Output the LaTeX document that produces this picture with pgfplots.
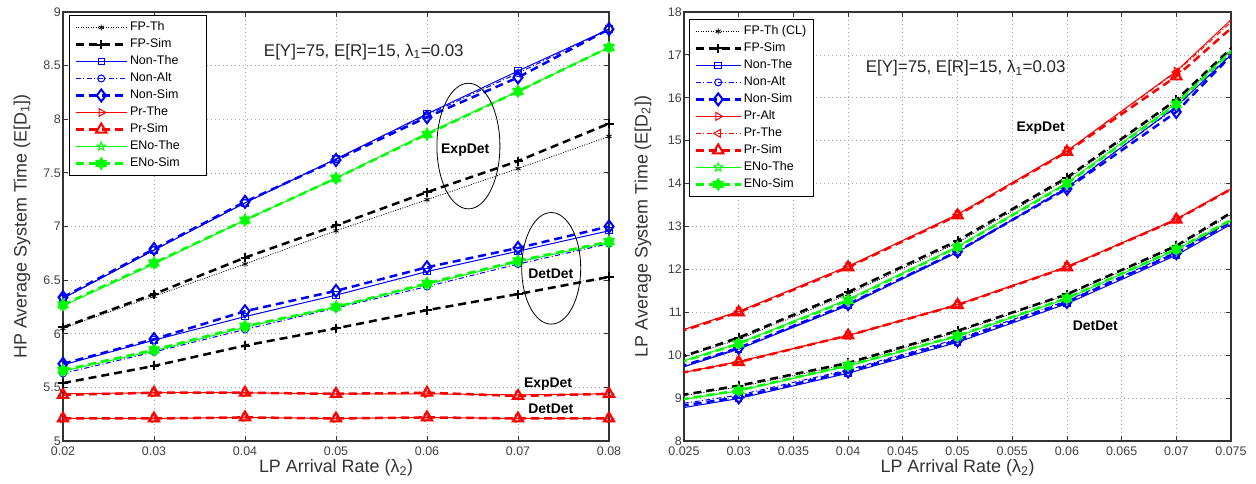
\documentclass[border=0pt]{standalone}
\usepackage{fontspec}
\setmainfont{Liberation Sans}
\usepackage{pgfplots}
\pgfplotsset{compat=1.18}
\usepackage{pgfplotstable}

\pgfdeclareplotmark{pstar}{%
  \pgfpathmoveto{\pgfpointpolar{90}{\pgfplotmarksize}}%
  \pgfpathlineto{\pgfpointpolar{126}{0.42\pgfplotmarksize}}%
  \pgfpathlineto{\pgfpointpolar{162}{\pgfplotmarksize}}%
  \pgfpathlineto{\pgfpointpolar{198}{0.42\pgfplotmarksize}}%
  \pgfpathlineto{\pgfpointpolar{234}{\pgfplotmarksize}}%
  \pgfpathlineto{\pgfpointpolar{270}{0.42\pgfplotmarksize}}%
  \pgfpathlineto{\pgfpointpolar{306}{\pgfplotmarksize}}%
  \pgfpathlineto{\pgfpointpolar{342}{0.42\pgfplotmarksize}}%
  \pgfpathlineto{\pgfpointpolar{18}{\pgfplotmarksize}}%
  \pgfpathlineto{\pgfpointpolar{54}{0.42\pgfplotmarksize}}%
  \pgfpathclose\pgfusepathqstroke}
\pgfdeclareplotmark{hexstar}{%
  \pgfpathmoveto{\pgfpointpolar{90}{\pgfplotmarksize}}%
  \pgfpathlineto{\pgfpointpolar{210}{\pgfplotmarksize}}%
  \pgfpathlineto{\pgfpointpolar{330}{\pgfplotmarksize}}%
  \pgfpathclose
  \pgfpathmoveto{\pgfpointpolar{270}{\pgfplotmarksize}}%
  \pgfpathlineto{\pgfpointpolar{30}{\pgfplotmarksize}}%
  \pgfpathlineto{\pgfpointpolar{150}{\pgfplotmarksize}}%
  \pgfpathclose\pgfusepathqfillstroke}

\pgfplotsset{
  fpth/.style={black, line width=0.8bp, dash pattern=on 1bp off 1.5bp, mark=asterisk, mark size=3bp, mark options={solid, line width=0.8bp}},
  fpsim/.style={black, line width=2.5bp, dash pattern=on 8bp off 5bp, mark=+, mark size=4.5bp, mark options={solid, line width=2bp}},
  nonthe/.style={blue, line width=1bp, mark=square, mark size=3.2bp, mark options={solid, line width=1bp}},
  nonalt/.style={blue, line width=1bp, dash pattern=on 5bp off 2.5bp on 1bp off 2.5bp, mark=o, mark size=3.5bp, mark options={solid, line width=1bp}},
  nonsim/.style={blue, line width=2.5bp, dash pattern=on 8bp off 5bp, mark=diamond, mark size=6bp, mark options={solid, line width=2bp}},
  prr/.style={red, line width=1bp, mark=triangle, mark size=4.5bp, mark options={solid, rotate=-90, line width=1bp}},
  prl/.style={red, line width=1bp, dash pattern=on 5bp off 2.5bp on 1bp off 2.5bp, mark=triangle, mark size=4.5bp, mark options={solid, rotate=90, line width=1bp}},
  prsim/.style={red, line width=2.5bp, dash pattern=on 8bp off 5bp, mark=triangle, mark size=6bp, mark options={solid, line width=2bp}},
  enothe/.style={green, line width=1bp, mark=pstar, mark size=4.5bp, mark options={solid, line width=1bp}},
  enosim/.style={green, line width=2.5bp, dash pattern=on 8bp off 5bp, mark=hexstar, mark size=6bp, mark options={solid, fill=green, line width=1bp}},
  base/.style={
    scale only axis, anchor=south west,
    axis line style={line width=1.2bp, black!80},
    grid=major,
    major grid style={line width=0.7bp, gray!70, dash pattern=on 1bp off 3bp},
    tick style={line width=0.8bp, black!80},
    major tick length=5bp,
    tick align=inside,
    ticklabel style={font=\fontsize{12.5}{15}\selectfont, text=black!75},
    xticklabel style={yshift=-2bp},
    yticklabel style={inner xsep=2bp},
    /pgf/number format/assume math mode=true,
    scaled ticks=false,
    every axis x label/.style={at={(axis description cs:0.5,-0.063)}, anchor=center, font=\fontsize{18}{21}\selectfont, text=black!80},
    every axis y label/.style={at={(axis description cs:-0.075,0.5)}, rotate=90, anchor=center, font=\fontsize{18}{21}\selectfont, text=black!80},
    legend cell align=left,
    legend style={anchor=north west, draw=black, line width=1bp, font=\fontsize{12.5}{14}\selectfont, fill=white, inner xsep=5bp, inner ysep=3.5bp, row sep=0bp, nodes={inner ysep=2.5bp, text height=9bp, text depth=3bp}},
  },
}

\pgfplotstableread{
x fpth fpsim nonthe nonalt nonsim prthe prsim enothe enosim
0.02 6.05 6.06 6.33 6.33 6.34 5.44 5.43 6.26 6.27
0.03 6.35 6.37 6.78 6.78 6.79 5.45 5.45 6.65 6.66
0.04 6.65 6.71 7.22 7.22 7.23 5.45 5.45 7.06 7.06
0.05 6.96 7.01 7.63 7.63 7.62 5.44 5.44 7.45 7.45
0.06 7.25 7.32 8.05 8.04 8.02 5.44 5.45 7.87 7.86
0.07 7.54 7.61 8.45 8.43 8.39 5.43 5.42 8.26 8.26
0.08 7.84 7.96 8.84 8.84 8.84 5.44 5.44 8.67 8.67
}\LE
\pgfplotstableread{
x fpsim nonthe nonalt nonsim prthe prsim enothe enosim
0.02 5.54 5.71 5.63 5.72 5.21 5.21 5.65 5.66
0.03 5.70 5.94 5.83 5.95 5.21 5.21 5.84 5.85
0.04 5.89 6.16 6.04 6.21 5.22 5.22 6.06 6.07
0.05 6.05 6.36 6.24 6.40 5.21 5.21 6.25 6.25
0.06 6.22 6.58 6.44 6.62 5.22 5.22 6.46 6.47
0.07 6.37 6.77 6.65 6.80 5.21 5.21 6.67 6.68
0.08 6.53 6.96 6.84 7.00 5.21 5.21 6.85 6.86
}\LD
\pgfplotstableread{
x fpth fpsim nonthe nonalt nonsim pralt prthe prsim enothe enosim
0.02 9.55 9.55 9.32 9.34 9.35 10.18 10.18 10.16 9.46 9.45
0.03 10.37 10.41 10.14 10.16 10.17 11.02 11.02 11.00 10.28 10.27
0.04 11.42 11.47 11.16 11.18 11.19 12.07 12.07 12.05 11.30 11.28
0.05 12.62 12.67 12.40 12.42 12.42 13.28 13.28 13.26 12.53 12.52
0.06 14.10 14.14 13.90 13.92 13.88 14.76 14.76 14.74 14.02 14.00
0.07 15.92 15.95 15.80 15.78 15.67 16.62 16.60 16.50 15.87 15.85
0.08 18.32 18.35 18.20 18.26 18.29 19.02 18.92 18.74 18.33 18.31
}\RE
\pgfplotstableread{
x fpth fpsim nonthe nonalt nonsim pralt prthe prsim enothe enosim
0.02 8.86 8.87 8.57 8.69 8.64 9.35 9.35 9.36 8.77 8.78
0.03 9.26 9.29 8.99 9.07 9.02 9.85 9.85 9.84 9.17 9.18
0.04 9.79 9.82 9.58 9.66 9.62 10.46 10.46 10.46 9.75 9.76
0.05 10.54 10.57 10.30 10.38 10.34 11.18 11.18 11.17 10.44 10.45
0.06 11.40 11.42 11.20 11.27 11.24 12.06 12.06 12.05 11.32 11.33
0.07 12.52 12.55 12.33 12.41 12.38 13.17 13.17 13.16 12.46 12.47
0.08 14.04 14.09 13.77 13.83 13.82 14.59 14.59 14.58 13.82 13.83
}\RD

\begin{document}
\begin{tikzpicture}
\useasboundingbox (0,0) rectangle (1256bp,484bp);
% ---------------- left ----------------
\begin{axis}[base, at={(63bp,43bp)}, width=546bp, height=429bp,
  xmin=0.02, xmax=0.08, ymin=5, ymax=9,
  xtick={0.02,0.03,0.04,0.05,0.06,0.07,0.08},
  xticklabels={0.02,0.03,0.04,0.05,0.06,0.07,0.08},
  ytick={5,5.5,6,6.5,7,7.5,8,8.5,9},
  yticklabels={5,5.5,6,6.5,7,7.5,8,8.5,9},
  clip mode=individual,
  xlabel={LP Arrival Rate (λ\textsubscript{2})},
  ylabel={HP Average System Time (E[D\textsubscript{1}])},
  legend image code/.code={\draw[mark repeat=2,mark phase=2,#1] plot coordinates {(0bp,0bp) (25.5bp,0bp) (51bp,0bp)};},
  legend style={at={(axis description cs:0.011,0.993)}},
]
\addplot[fpth] table[x=x,y=fpth]{\LE};
\addplot[fpsim] table[x=x,y=fpsim]{\LE};
\addplot[nonthe] table[x=x,y=nonthe]{\LE};
\addplot[nonalt] table[x=x,y=nonalt]{\LE};
\addplot[nonsim] table[x=x,y=nonsim]{\LE};
\addplot[prr] table[x=x,y=prthe]{\LE};
\addplot[prsim] table[x=x,y=prsim]{\LE};
\addplot[enothe] table[x=x,y=enothe]{\LE};
\addplot[enosim] table[x=x,y=enosim]{\LE};
\addplot[fpsim, forget plot] table[x=x,y=fpsim]{\LD};
\addplot[nonthe, forget plot] table[x=x,y=nonthe]{\LD};
\addplot[nonalt, forget plot] table[x=x,y=nonalt]{\LD};
\addplot[nonsim, forget plot] table[x=x,y=nonsim]{\LD};
\addplot[prr, forget plot] table[x=x,y=prthe]{\LD};
\addplot[prsim, forget plot] table[x=x,y=prsim]{\LD};
\addplot[enothe, forget plot] table[x=x,y=enothe]{\LD};
\addplot[enosim, forget plot] table[x=x,y=enosim]{\LD};
\legend{FP-Th, FP-Sim, Non-The, Non-Alt, Non-Sim, Pr-The, Pr-Sim, ENo-The, ENo-Sim\hspace*{20bp}}
\node[anchor=west, font=\fontsize{17}{20}\selectfont, text=black!85] at (axis cs:0.0417,8.63) {E[Y]=75, E[R]=15, λ\textsubscript{1}=0.03};
\draw[line width=0.8bp] (axis cs:0.06455,7.75) ellipse [x radius=31.5bp, y radius=62.8bp];
\draw[line width=0.8bp] (axis cs:0.07365,6.61) ellipse [x radius=29.5bp, y radius=55.8bp];
\node[font=\bfseries\fontsize{14}{16}\selectfont] at (axis cs:0.0642,7.71) {ExpDet};
\node[font=\bfseries\fontsize{14}{16}\selectfont] at (axis cs:0.0736,6.56) {DetDet};
\node[font=\bfseries\fontsize{14}{16}\selectfont] at (axis cs:0.0733,5.53) {ExpDet};
\node[font=\bfseries\fontsize{14}{16}\selectfont] at (axis cs:0.0736,5.30) {DetDet};
\end{axis}
% ---------------- right ----------------
\begin{axis}[base, at={(684bp,43bp)}, width=547bp, height=429bp,
  xmin=0.025, xmax=0.075, ymin=8, ymax=18,
  xtick={0.025,0.03,0.035,0.04,0.045,0.05,0.055,0.06,0.065,0.07,0.075},
  xticklabels={0.025,0.03,0.035,0.04,0.045,0.05,0.055,0.06,0.065,0.07,0.075},
  ytick={8,9,10,11,12,13,14,15,16,17,18},
  yticklabels={8,9,10,11,12,13,14,15,16,17,18},
  xlabel={LP Arrival Rate (λ\textsubscript{2})},
  ylabel={LP Average System Time (E[D\textsubscript{2}])},
  every axis y label/.append style={at={(axis description cs:-0.075,0.5)}},
  legend image code/.code={\draw[mark repeat=2,mark phase=2,#1] plot coordinates {(0bp,0bp) (22.5bp,0bp) (45bp,0bp)};},
  legend style={at={(axis description cs:0.009,0.984)}},
]
\addplot[fpth] table[x=x,y=fpth]{\RE};
\addplot[fpsim] table[x=x,y=fpsim]{\RE};
\addplot[nonthe] table[x=x,y=nonthe]{\RE};
\addplot[nonalt] table[x=x,y=nonalt]{\RE};
\addplot[nonsim] table[x=x,y=nonsim]{\RE};
\addplot[prr] table[x=x,y=pralt]{\RE};
\addplot[prl] table[x=x,y=prthe]{\RE};
\addplot[prsim] table[x=x,y=prsim]{\RE};
\addplot[enothe] table[x=x,y=enothe]{\RE};
\addplot[enosim] table[x=x,y=enosim]{\RE};
\addplot[fpth, forget plot] table[x=x,y=fpth]{\RD};
\addplot[fpsim, forget plot] table[x=x,y=fpsim]{\RD};
\addplot[nonthe, forget plot] table[x=x,y=nonthe]{\RD};
\addplot[nonalt, forget plot] table[x=x,y=nonalt]{\RD};
\addplot[nonsim, forget plot] table[x=x,y=nonsim]{\RD};
\addplot[prr, forget plot] table[x=x,y=pralt]{\RD};
\addplot[prl, forget plot] table[x=x,y=prthe]{\RD};
\addplot[prsim, forget plot] table[x=x,y=prsim]{\RD};
\addplot[enothe, forget plot] table[x=x,y=enothe]{\RD};
\addplot[enosim, forget plot] table[x=x,y=enosim]{\RD};
\legend{FP-Th (CL), FP-Sim, Non-The, Non-Alt, Non-Sim, Pr-Alt, Pr-The, Pr-Sim, ENo-The, ENo-Sim\hspace*{10bp}}
\node[anchor=west, font=\fontsize{17}{20}\selectfont, text=black!85] at (axis cs:0.0413,16.69) {E[Y]=75, E[R]=15, λ\textsubscript{1}=0.03};
\node[font=\bfseries\fontsize{14}{16}\selectfont] at (axis cs:0.0576,15.30) {ExpDet};
\node[font=\bfseries\fontsize{14}{16}\selectfont] at (axis cs:0.0626,10.68) {DetDet};
\end{axis}
\end{tikzpicture}
\end{document}
